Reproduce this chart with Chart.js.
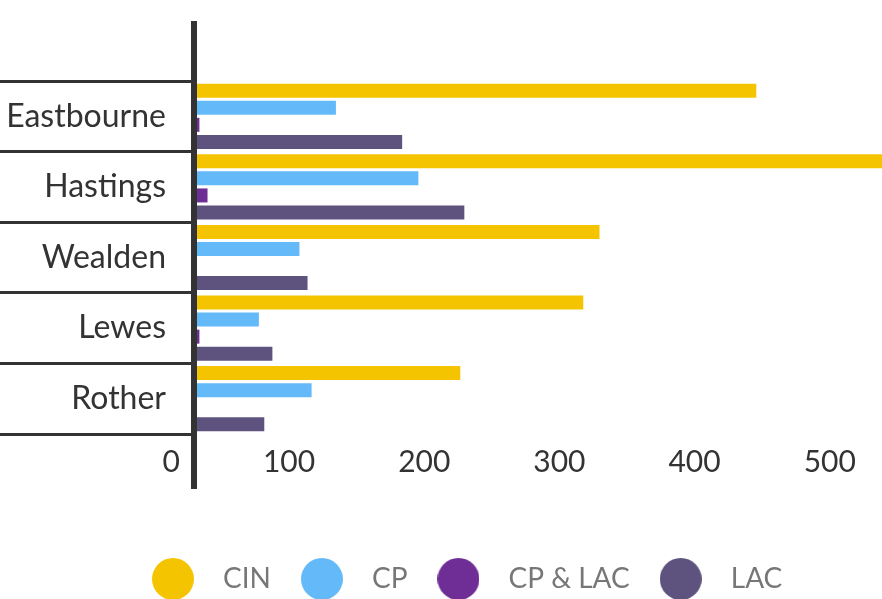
<!DOCTYPE html>
<html><head><meta charset="utf-8">
<script src="https://cdn.jsdelivr.net/npm/chart.js@4"></script>
<style>html,body{margin:0;padding:0;background:#fff}#wrap{width:882px;height:599px;position:relative}</style>
</head><body><div id="wrap"><canvas id="c"></canvas></div>
<script>
const categories = ['Eastbourne', 'Hastings', 'Wealden', 'Lewes', 'Rother'];
const seriesNames = ['CIN', 'CP', 'CP & LAC', 'LAC'];
const cinValues = [416, 530, 300, 288, 197];
const cpValues = [105, 166, 78, 48, 87];
const cpLacValues = [4, 10, 0, 4, 0];
const lacValues = [154, 200, 84, 58, 52];
const xTickValues = [0, 100, 200, 300, 400, 500];
const seriesColors = ['#F5C400', '#64B9F9', '#6F2E96', '#5E537E'];

function makeDot(color) {
  const c = document.createElement('canvas');
  c.width = 42; c.height = 42;
  const g = c.getContext('2d');
  g.fillStyle = color;
  g.beginPath(); g.arc(21, 21, 21, 0, Math.PI * 2); g.fill();
  return c;
}
const dots = seriesColors.map(makeDot);

const axisLine = {
  id: 'axisLine',
  afterLayout(chart) {
    // legend row starts further right, as in the original layout
    if (chart.legend) chart.legend.left += 122;
  },
  afterDatasetsDraw(chart) {
    const {ctx, chartArea} = chart;
    ctx.save();
    ctx.fillStyle = '#333333';
    ctx.fillRect(chartArea.left - 3, chartArea.top - 60, 6, chartArea.bottom - chartArea.top + 115);
    ctx.restore();
  }
};

const seriesValues = [cinValues, cpValues, cpLacValues, lacValues];
new Chart(document.getElementById('c'), {
  type: 'bar',
  data: {
    labels: categories,
    datasets: seriesNames.map((name, i) => ({
      label: name,
      data: seriesValues[i],
      backgroundColor: seriesColors[i],
      borderWidth: 0,
      categoryPercentage: 0.967,
      barPercentage: 0.82
    }))
  },
  options: {
    indexAxis: 'y',
    responsive: true,
    maintainAspectRatio: false,
    animation: false,
    layout: {padding: {top: 81, left: 0, right: 0, bottom: -4}},
    scales: {
      x: {
        type: 'linear', min: 0, max: 509, position: 'bottom',
        grid: {display: false, drawTicks: true, tickLength: 10}, border: {display: false},
        ticks: {
          align: 'end', labelOffset: -14, padding: 0, color: '#333333',
          font: {family: 'Lato', size: 30}, autoSkip: false, maxRotation: 0,
          includeBounds: false, stepSize: 100
        },
        afterBuildTicks: s => { s.ticks = xTickValues.map(v => ({value: v})); },
        afterFit: s => { s.height = 116; }
      },
      y: {
        type: 'category', offset: true,
        grid: {display: true, drawOnChartArea: false, drawTicks: true, tickLength: 194,
               color: '#333333', lineWidth: 3, offset: true},
        border: {display: false},
        ticks: {color: '#333333', font: {family: 'Lato', size: 32}, padding: -166, autoSkip: false},
        afterFit: s => { s.width = 194; }
      }
    },
    plugins: {
      legend: {
        position: 'bottom', align: 'start',
        labels: {
          usePointStyle: true, pointStyleWidth: 72, color: '#777777',
          font: {family: 'Lato', size: 28}, padding: 15,
          generateLabels: chart => Chart.defaults.plugins.legend.labels.generateLabels(chart)
            .map((it, i) => Object.assign(it, {pointStyle: dots[i]}))
        }
      },
      tooltip: {enabled: false}
    }
  },
  plugins: [axisLine]
});
</script></body></html>
